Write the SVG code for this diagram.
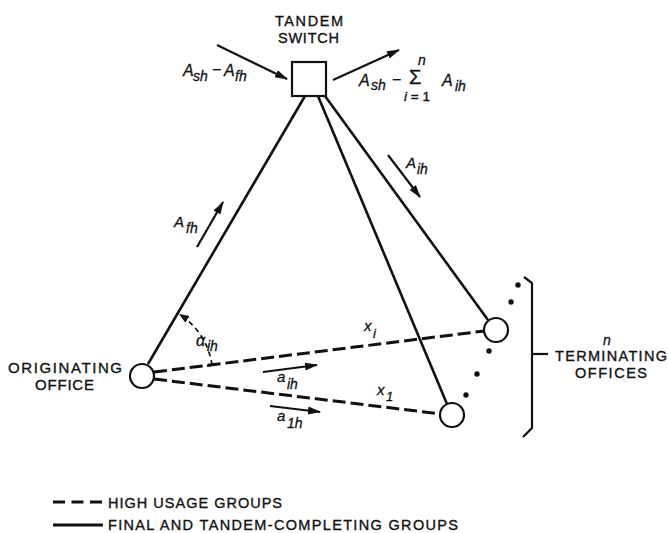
<svg xmlns="http://www.w3.org/2000/svg" width="668" height="533" viewBox="0 0 668 533">
<style>
.lbl{font-family:"Liberation Sans",Arial,sans-serif;font-size:14.5px;fill:#111;stroke:#111;stroke-width:0.35}
.it{font-family:"Liberation Sans",Arial,sans-serif;font-style:italic;fill:#111;stroke:#111;stroke-width:0.3}
.solid{stroke:#111;stroke-width:2.6;fill:none}
.dash{stroke:#111;stroke-width:3;fill:none;stroke-dasharray:13 5}
.arr{stroke:#111;stroke-width:2.2;fill:none;marker-end:url(#ah)}
.node{fill:#fff;stroke:#111;stroke-width:2.2}
</style>
<defs>
<marker id="ah" markerUnits="userSpaceOnUse" markerWidth="14" markerHeight="10" refX="12" refY="5" orient="auto">
<path d="M0,1 L13,5 L0,9 Z" fill="#111"/>
</marker>
<marker id="ahs" markerUnits="userSpaceOnUse" markerWidth="12" markerHeight="10" refX="10" refY="4" orient="auto">
<path d="M0,0 L10,4 L0,8 Z" fill="#111"/>
</marker>
</defs>
<rect width="668" height="533" fill="#fff"/>
<g id="connectors">
<line class="solid" x1="148" y1="364" x2="305" y2="96"/>
<line class="solid" x1="318" y1="96" x2="447" y2="404"/>
<line class="solid" x1="325" y1="96" x2="488" y2="320"/>
<line class="dash" x1="154" y1="372" x2="484" y2="331"/>
<line class="dash" x1="154" y1="379" x2="441" y2="414"/>
<path d="M212,365 A72,72 0 0 0 179,314" stroke="#111" stroke-width="1.7" fill="none" stroke-dasharray="5 4" marker-end="url(#ahs)"/>
<line x1="207" y1="366" x2="217" y2="364" stroke="#111" stroke-width="1.9"/>
</g>
<g id="flows">
<line class="arr" x1="217" y1="45" x2="287" y2="79"/>
<line class="arr" x1="333" y1="80" x2="399" y2="50"/>
<line class="arr" x1="197" y1="247" x2="223" y2="202"/>
<line class="arr" x1="388" y1="155" x2="420" y2="197"/>
<line class="arr" x1="263" y1="372" x2="317" y2="365"/>
<line class="arr" x1="270" y1="406" x2="320" y2="412"/>
</g>
<g id="tandem">
<rect class="node" x="292" y="62" width="34" height="34"/>
<text class="lbl" x="275" y="26" textLength="68" lengthAdjust="spacing">TANDEM</text>
<text class="lbl" x="278" y="43" textLength="61" lengthAdjust="spacing">SWITCH</text>
</g>
<g id="origin">
<circle class="node" cx="142" cy="376" r="12"/>
<text class="lbl" x="8" y="373" style="font-size:15px" textLength="114" lengthAdjust="spacing">ORIGINATING</text>
<text class="lbl" x="35" y="390" style="font-size:15px" textLength="59" lengthAdjust="spacing">OFFICE</text>
</g>
<g id="term-i">
<circle class="node" cx="496" cy="330" r="12"/>
</g>
<g id="term-1">
<circle class="node" cx="452" cy="415" r="12"/>
</g>
<g id="terminating">
<circle cx="518" cy="285" r="2.7" fill="#111"/>
<circle cx="511" cy="302" r="2.7" fill="#111"/>
<circle cx="489" cy="351" r="2.7" fill="#111"/>
<circle cx="477" cy="374" r="2.7" fill="#111"/>
<circle cx="466" cy="395" r="2.7" fill="#111"/>
<path d="M524,277 L532,283 L532,428 L523,437" stroke="#111" stroke-width="2.2" fill="none"/>
<line x1="532" y1="354" x2="548" y2="354" stroke="#111" stroke-width="2.2"/>
<text class="it" x="603" y="345" style="font-size:14px">n</text>
<text class="lbl" x="555" y="361" textLength="112" lengthAdjust="spacing">TERMINATING</text>
<text class="lbl" x="575" y="378" textLength="72" lengthAdjust="spacing">OFFICES</text>
</g>
<g id="labels">
<text class="it" style="font-size:16px"><tspan x="183" y="76">A</tspan><tspan x="193" y="81" style="font-size:14px">sh</tspan><tspan x="212" y="75" style="font-style:normal">−</tspan><tspan x="224" y="76">A</tspan><tspan x="235" y="81" style="font-size:14px">fh</tspan></text>
<text class="it" style="font-size:16px"><tspan x="359" y="86">A</tspan><tspan x="371" y="90" style="font-size:14px">sh</tspan><tspan x="392" y="85" style="font-style:normal">−</tspan></text>
<text class="lbl" x="409" y="84" style="font-size:20px">Σ</text>
<text class="it" x="418" y="65" style="font-size:14px">n</text>
<text class="lbl" x="404" y="101" style="font-size:13.5px"><tspan style="font-style:italic">i</tspan> = 1</text>
<text class="it" style="font-size:16px"><tspan x="442" y="86">A</tspan><tspan x="455" y="91" style="font-size:14px">ih</tspan></text>
<text class="it" style="font-size:15px"><tspan x="174" y="227">A</tspan><tspan x="186" y="233" style="font-size:14px">fh</tspan></text>
<text class="it" style="font-size:15px"><tspan x="406" y="168">A</tspan><tspan x="417" y="174" style="font-size:14px">ih</tspan></text>
<text class="it" style="font-size:16px"><tspan x="196" y="346">α</tspan><tspan x="207" y="351" style="font-size:14px">ih</tspan></text>
<text class="it" style="font-size:15px"><tspan x="277" y="382">a</tspan><tspan x="287" y="389" style="font-size:14px">ih</tspan></text>
<text class="it" style="font-size:15px"><tspan x="277" y="421">a</tspan><tspan x="287" y="428" style="font-size:14px">1h</tspan></text>
<text class="it" style="font-size:15px"><tspan x="364" y="331">x</tspan><tspan x="373" y="338" style="font-size:13px">i</tspan></text>
<text class="it" style="font-size:15px"><tspan x="377" y="395">x</tspan><tspan x="386" y="401" style="font-size:13px">1</tspan></text>
</g>
<g id="legend">
<line x1="53" y1="502" x2="102" y2="502" stroke="#111" stroke-width="3" stroke-dasharray="12 6.5"/>
<line x1="53" y1="525" x2="103" y2="525" stroke="#111" stroke-width="3"/>
<text class="lbl" x="108" y="508" textLength="174" lengthAdjust="spacing">HIGH USAGE GROUPS</text>
<text class="lbl" x="108" y="530" textLength="350" lengthAdjust="spacing">FINAL AND TANDEM-COMPLETING GROUPS</text>
</g>
</svg>
